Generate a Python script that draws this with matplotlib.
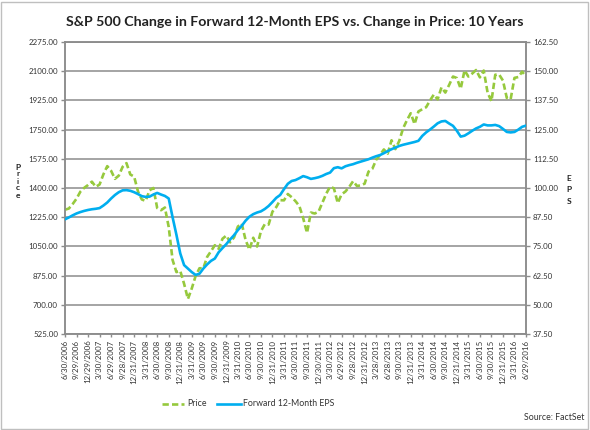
import numpy as np
import matplotlib.pyplot as plt
from matplotlib.patches import Rectangle

plt.rcParams['font.family'] = ['Lato', 'DejaVu Sans']

# monthly month-end values, 6/2006 .. 6/2016
price = [1270, 1277, 1304, 1336, 1378, 1401, 1418,
         1438, 1407, 1421, 1482, 1531, 1503, 1455, 1474, 1527, 1549, 1481, 1468,
         1379, 1331, 1323, 1386, 1400, 1280, 1267, 1283, 1166, 969, 896, 903,
         826, 735, 798, 873, 919, 919, 987, 1021, 1057, 1036, 1096, 1115,
         1074, 1104, 1169, 1187, 1089, 1031, 1102, 1049, 1141, 1183, 1181, 1258,
         1286, 1327, 1326, 1364, 1345, 1321, 1292, 1219, 1131, 1253, 1247, 1258,
         1312, 1366, 1408, 1398, 1310, 1362, 1379, 1407, 1441, 1412, 1416, 1426,
         1498, 1515, 1569, 1598, 1631, 1606, 1686, 1633, 1682, 1757, 1806, 1848,
         1783, 1859, 1872, 1884, 1924, 1960, 1931, 2003, 1972, 2018, 2068, 2059,
         1995, 2105, 2068, 2086, 2107, 2063, 2104, 1972, 1920, 2079, 2080, 2044,
         1940, 1932, 2060, 2065, 2097, 2068]

eps = [86.6, 87.4, 88.3, 89.1, 89.7, 90.2, 90.6, 90.9, 91.1, 91.4,
       92.5, 93.8, 95.5, 97.0, 98.2, 99.0, 99.1, 98.8, 98.2, 97.4,
       96.5, 96.2, 96.3, 97.2, 97.9, 97.2, 96.6, 95.5, 87.5, 80.0,
       72.0, 67.0, 65.5, 64.0, 62.8, 63.3, 65.5, 67.3, 68.8, 69.8,
       72.5, 74.3, 76.0, 78.0, 79.8, 82.0, 83.8, 86.0, 87.7, 88.8,
       89.5, 90.0, 91.0, 92.3, 94.0, 95.8, 97.0, 99.5, 101.8, 103.0,
       103.4, 104.2, 105.1, 104.6, 103.9, 104.2, 104.6, 105.2, 106.0, 106.6,
       108.5, 108.9, 108.4, 109.3, 109.8, 110.2, 110.8, 111.3, 111.8, 112.3,
       113.0, 113.6, 114.1, 114.9, 115.8, 116.6, 117.3, 118.0, 118.5, 118.9,
       119.3, 119.7, 120.2, 122.3, 123.8, 125.0, 126.3, 127.7, 128.5, 128.7,
       127.6, 126.6, 124.5, 122.0, 122.4, 123.4, 124.5, 125.5, 126.2, 127.2,
       126.8, 126.8, 127.0, 126.5, 125.3, 124.0, 123.8, 124.0, 125.0, 126.2,
       126.7]

tick_labels = ["6/30/2006", "9/29/2006", "12/29/2006", "3/30/2007", "6/29/2007",
               "9/28/2007", "12/31/2007", "3/31/2008", "6/30/2008", "9/30/2008",
               "12/31/2008", "3/31/2009", "6/30/2009", "9/30/2009", "12/31/2009",
               "3/31/2010", "6/30/2010", "9/30/2010", "12/31/2010", "3/31/2011",
               "6/30/2011", "9/30/2011", "12/30/2011", "3/30/2012", "6/29/2012",
               "9/28/2012", "12/31/2012", "3/28/2013", "6/28/2013", "9/30/2013",
               "12/31/2013", "3/31/2014", "6/30/2014", "9/30/2014", "12/31/2014",
               "3/31/2015", "6/30/2015", "9/30/2015", "12/31/2015", "3/31/2016",
               "6/29/2016"]

green = '#96C93D'
blue = '#00AEEF'
grid_c = '#8C8C8C'

fig = plt.figure(figsize=(5.9, 4.3), dpi=100)
ax = fig.add_axes([65 / 590, 1 - 334 / 430, 461 / 590, 292 / 430])
ax2 = ax.twinx()

x = np.arange(len(price))
ax.plot(x, price, color=green, lw=1.9, dashes=(2.4, 1.2), zorder=3)
ax2.plot(x, eps, color=blue, lw=1.9, zorder=3)

ax.set_xlim(0, len(price) - 1)
ax.set_ylim(525, 2275)
ax.set_yticks(np.arange(525, 2276, 175))
ax.set_yticklabels([f"{v:.2f}" for v in np.arange(525, 2276, 175)])
ax2.set_ylim(37.5, 162.5)
ax2.set_yticks(np.arange(37.5, 162.6, 12.5))
ax2.set_yticklabels([f"{v:.2f}" for v in np.arange(37.5, 162.6, 12.5)])
ax.set_xticks(np.arange(0, len(price), 3))
ax.set_xticklabels(tick_labels, rotation=90)

ax.grid(axis='y', color=grid_c, lw=1.1)
ax.set_axisbelow(True)
for a in (ax, ax2):
    for s in a.spines.values():
        s.set_color(grid_c)
        s.set_linewidth(1.1)
    a.tick_params(colors=grid_c, labelcolor='#333333', labelsize=5.7, length=3, width=1)
ax.tick_params(axis='y', pad=2)
ax2.tick_params(axis='y', pad=2)
ax.tick_params(axis='x', pad=2, length=2)

fig.text(295 / 590, 1 - 22 / 430, "S&P 500 Change in Forward 12-Month EPS vs. Change in Price: 10 Years",
         ha='center', va='center', fontsize=10.2, fontweight='bold', color='#222222')
fig.text(18 / 590, 1 - 181 / 430, "P\nr\ni\nc\ne", ha='center', va='center',
         fontsize=6, fontweight='bold', linespacing=1.0, color='#222222')
fig.text(569 / 590, 1 - 190 / 430, "E\nP\nS", ha='center', va='center',
         fontsize=6, fontweight='bold', linespacing=1.7, color='#222222')

# legend
ly = 1 - 404 / 430
fig.lines.append(plt.Line2D([162 / 590, 184 / 590], [ly, ly], transform=fig.transFigure,
                            color=green, lw=1.9, dashes=(2.4, 1.2)))
fig.text(187 / 590, ly, "Price", ha='left', va='center', fontsize=6.3, color='#333333')
fig.lines.append(plt.Line2D([217 / 590, 241 / 590], [ly, ly], transform=fig.transFigure,
                            color=blue, lw=1.9))
fig.text(243 / 590, ly, "Forward 12-Month EPS", ha='left', va='center', fontsize=6.3, color='#333333')

fig.text(584 / 590, 1 - 418 / 430, "Source: FactSet", ha='right', va='center',
         fontsize=6.3, color='#333333')

fig.patches.append(Rectangle((1 / 590, 1 / 430), 587 / 590, 427 / 430, transform=fig.transFigure,
                             fill=False, edgecolor='#BFBFBF', lw=1))

fig.savefig("out.png", dpi=100)
